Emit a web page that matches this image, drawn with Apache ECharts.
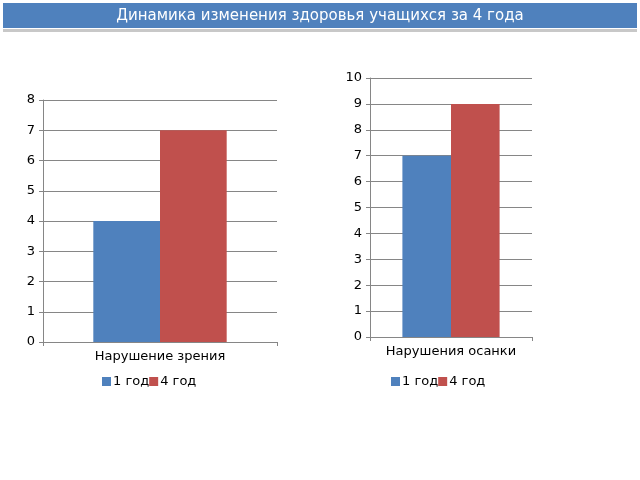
<!DOCTYPE html>
<html><head><meta charset="utf-8">
<script src="https://cdn.jsdelivr.net/npm/echarts@6/dist/echarts.min.js"></script>
<style>html,body{margin:0;padding:0;background:#fff}#c{width:640px;height:480px}</style>
</head><body><div id="c"></div>
<script>
const seriesNames = ['1 год', '4 год'];
const cat1 = ['Нарушение зрения'];
const cat2 = ['Нарушения осанки'];
const vals1 = [[4], [7]];
const vals2 = [[7], [9]];
const colors = ['#4f81bd', '#c0504d'];
const font = 'DejaVu Sans';
const chart = echarts.init(document.getElementById('c'));
const axisY = (gi, max) => ({
  type: 'value', gridIndex: gi, min: 0, max: max, interval: 1,
  axisLine: {show: true, lineStyle: {color: '#868686'}},
  axisTick: {show: true, length: 4, lineStyle: {color: '#868686'}},
  axisLabel: {color: '#000', fontFamily: font, fontSize: 13, margin: 8},
  splitLine: {lineStyle: {color: '#868686'}}
});
const axisX = (gi, data) => ({
  type: 'category', gridIndex: gi, data: data,
  axisLine: {lineStyle: {color: '#868686'}},
  axisTick: {show: true, alignWithLabel: false, length: 4, lineStyle: {color: '#868686'}},
  axisLabel: {color: '#000', fontFamily: font, fontSize: 13, margin: 8}
});
const mk = (gi, vals, gap) => seriesNames.map((n, i) => ({
  name: n, type: 'bar', xAxisIndex: gi, yAxisIndex: gi, data: vals[i],
  barGap: '0%', barCategoryGap: gap, itemStyle: {color: colors[i]}
}));
chart.setOption({
  animation: false,
  color: colors,
  graphic: [
    {type: 'rect', shape: {x: 3, y: 3, width: 634, height: 25}, style: {fill: '#4f81bd'}},
    {type: 'rect', shape: {x: 3, y: 29, width: 634, height: 3}, style: {fill: '#c8c8c8'}},
    {type: 'text', x: 320, y: 16, style: {text: 'Динамика изменения здоровья учащихся за 4 года', fill: '#fff', font: '15px DejaVu Sans', align: 'center', verticalAlign: 'middle'}}
  ],
  legend: [
    {data: seriesNames, left: 97, top: 370, itemWidth: 9, itemHeight: 9, itemGap: 0, icon: 'rect', textStyle: {fontFamily: font, fontSize: 13, color: '#000', padding: [0, 0, 0, -3]}},
    {data: seriesNames, left: 386, top: 370, itemWidth: 9, itemHeight: 9, itemGap: 0, icon: 'rect', textStyle: {fontFamily: font, fontSize: 13, color: '#000', padding: [0, 0, 0, -3]}}
  ],
  grid: [
    {left: 43, right: 363, top: 100, bottom: 138},
    {left: 370, right: 108, top: 78, bottom: 143}
  ],
  xAxis: [axisX(0, cat1), axisX(1, cat2)],
  yAxis: [axisY(0, 8), axisY(1, 10)],
  series: [...mk(0, vals1, '43%'), ...mk(1, vals2, '40%')]
});
</script></body></html>
